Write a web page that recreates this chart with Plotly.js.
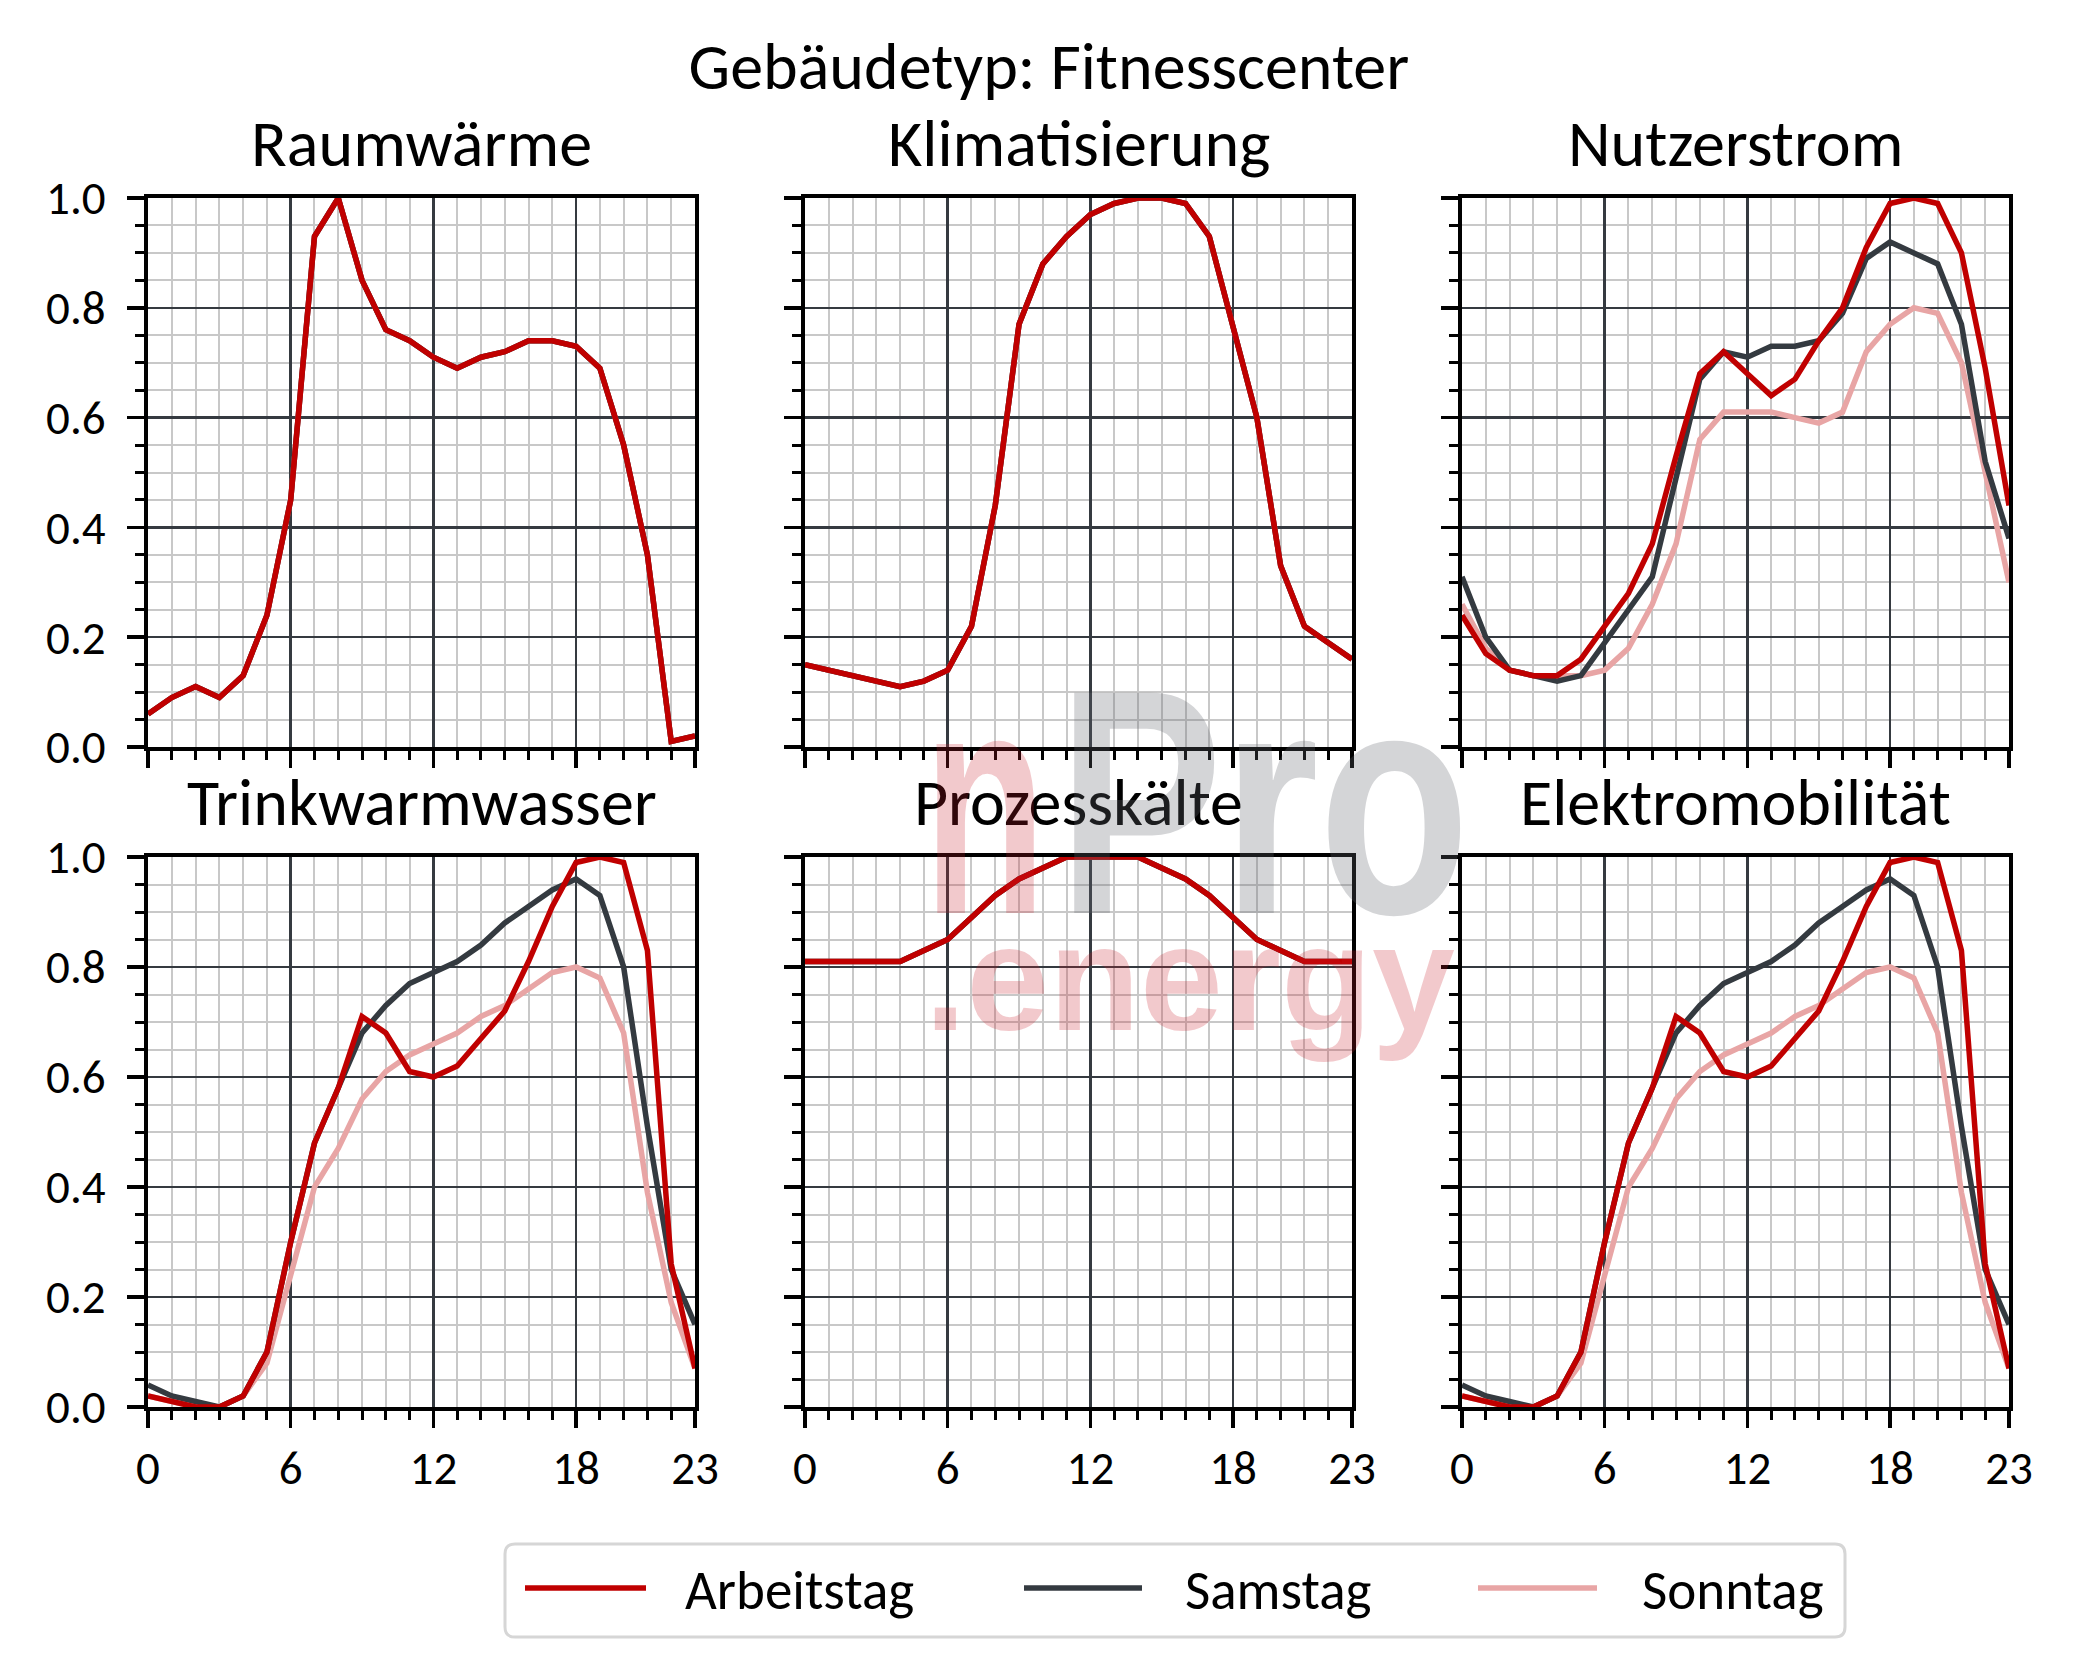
<!DOCTYPE html>
<html><head><meta charset="utf-8">
<script src="https://cdn.plot.ly/plotly-3.0.1.min.js"></script>
<style>html,body{margin:0;padding:0;background:#fff}</style>
</head><body>
<div id="chart" style="width:2077px;height:1678px"></div>
<script>
// ---------- data ----------
const hours = [0,1,2,3,4,5,6,7,8,9,10,11,12,13,14,15,16,17,18,19,20,21,22,23];
const xTickVals = [0,6,12,18,23];
const xTickText = ['0','6','12','18','23'];
const seriesNames = ['Arbeitstag','Samstag','Sonntag'];
const panelTitles = ['Raumwärme','Klimatisierung','Nutzerstrom','Trinkwarmwasser','Prozesskälte','Elektromobilität'];
const mainTitle = 'Gebäudetyp: Fitnesscenter';

const raumwaerme_arbeitstag = [0.06,0.09,0.11,0.09,0.13,0.24,0.45,0.93,1.00,0.85,0.76,0.74,0.71,0.69,0.71,0.72,0.74,0.74,0.73,0.69,0.55,0.35,0.01,0.02];
const raumwaerme_samstag    = [0.06,0.09,0.11,0.09,0.13,0.24,0.45,0.93,1.00,0.85,0.76,0.74,0.71,0.69,0.71,0.72,0.74,0.74,0.73,0.69,0.55,0.35,0.01,0.02];
const raumwaerme_sonntag    = [0.06,0.09,0.11,0.09,0.13,0.24,0.45,0.93,1.00,0.85,0.76,0.74,0.71,0.69,0.71,0.72,0.74,0.74,0.73,0.69,0.55,0.35,0.01,0.02];

const klima_arbeitstag = [0.15,0.14,0.13,0.12,0.11,0.12,0.14,0.22,0.44,0.77,0.88,0.93,0.97,0.99,1.00,1.00,0.99,0.93,0.76,0.60,0.33,0.22,0.19,0.16];
const klima_samstag    = [0.15,0.14,0.13,0.12,0.11,0.12,0.14,0.22,0.44,0.77,0.88,0.93,0.97,0.99,1.00,1.00,0.99,0.93,0.76,0.60,0.33,0.22,0.19,0.16];
const klima_sonntag    = [0.15,0.14,0.13,0.12,0.11,0.12,0.14,0.22,0.44,0.77,0.88,0.93,0.97,0.99,1.00,1.00,0.99,0.93,0.76,0.60,0.33,0.22,0.19,0.16];

const nutzer_arbeitstag = [0.24,0.17,0.14,0.13,0.13,0.16,0.22,0.28,0.37,0.53,0.68,0.72,0.68,0.64,0.67,0.74,0.80,0.91,0.99,1.00,0.99,0.90,0.69,0.44];
const nutzer_samstag    = [0.31,0.20,0.14,0.13,0.12,0.13,0.19,0.25,0.31,0.49,0.67,0.72,0.71,0.73,0.73,0.74,0.79,0.89,0.92,0.90,0.88,0.77,0.52,0.38];
const nutzer_sonntag    = [0.26,0.18,0.14,0.13,0.13,0.13,0.14,0.18,0.26,0.37,0.56,0.61,0.61,0.61,0.60,0.59,0.61,0.72,0.77,0.80,0.79,0.70,0.50,0.30];

const trink_arbeitstag = [0.02,0.01,0.00,0.00,0.02,0.10,0.30,0.48,0.58,0.71,0.68,0.61,0.60,0.62,0.67,0.72,0.81,0.91,0.99,1.00,0.99,0.83,0.26,0.07];
const trink_samstag    = [0.04,0.02,0.01,0.00,0.02,0.10,0.30,0.48,0.58,0.68,0.73,0.77,0.79,0.81,0.84,0.88,0.91,0.94,0.96,0.93,0.80,0.51,0.25,0.15];
const trink_sonntag    = [0.02,0.01,0.00,0.00,0.02,0.08,0.24,0.40,0.47,0.56,0.61,0.64,0.66,0.68,0.71,0.73,0.76,0.79,0.80,0.78,0.68,0.39,0.19,0.07];

const prozess_arbeitstag = [0.81,0.81,0.81,0.81,0.81,0.83,0.85,0.89,0.93,0.96,0.98,1.00,1.00,1.00,1.00,0.98,0.96,0.93,0.89,0.85,0.83,0.81,0.81,0.81];
const prozess_samstag    = [0.81,0.81,0.81,0.81,0.81,0.83,0.85,0.89,0.93,0.96,0.98,1.00,1.00,1.00,1.00,0.98,0.96,0.93,0.89,0.85,0.83,0.81,0.81,0.81];
const prozess_sonntag    = [0.81,0.81,0.81,0.81,0.81,0.83,0.85,0.89,0.93,0.96,0.98,1.00,1.00,1.00,1.00,0.98,0.96,0.93,0.89,0.85,0.83,0.81,0.81,0.81];

const emob_arbeitstag = [0.02,0.01,0.00,0.00,0.02,0.10,0.30,0.48,0.58,0.71,0.68,0.61,0.60,0.62,0.67,0.72,0.81,0.91,0.99,1.00,0.99,0.83,0.26,0.07];
const emob_samstag    = [0.04,0.02,0.01,0.00,0.02,0.10,0.30,0.48,0.58,0.68,0.73,0.77,0.79,0.81,0.84,0.88,0.91,0.94,0.96,0.93,0.80,0.51,0.25,0.15];
const emob_sonntag    = [0.02,0.01,0.00,0.00,0.02,0.08,0.24,0.40,0.47,0.56,0.61,0.64,0.66,0.68,0.71,0.73,0.76,0.79,0.80,0.78,0.68,0.39,0.19,0.07];

const panels = [
  [raumwaerme_arbeitstag, raumwaerme_samstag, raumwaerme_sonntag],
  [klima_arbeitstag, klima_samstag, klima_sonntag],
  [nutzer_arbeitstag, nutzer_samstag, nutzer_sonntag],
  [trink_arbeitstag, trink_samstag, trink_sonntag],
  [prozess_arbeitstag, prozess_samstag, prozess_sonntag],
  [emob_arbeitstag, emob_samstag, emob_sonntag]
];

// ---------- styling ----------
const W = 2077, H = 1678;
const FONT = 'Carlito, Calibri, Lato, sans-serif';
const colors = ['#c00000', '#343a40', '#e8a5a5'];
const LW = 5.5;
const colDom = [[148/W, 695/W], [805/W, 1352/W], [1462/W, 2009/W]];
const rowDom = [[1-747/H, 1-198/H], [1-1407/H, 1-857/H]];

const traces = [];
const layout = {
  width: W, height: H,
  margin: {l:0, r:0, t:0, b:0},
  paper_bgcolor: '#ffffff', plot_bgcolor: '#ffffff',
  showlegend: false,
  font: {family: FONT, color: '#000'},
  title: {text: mainTitle, x: 0.505, xanchor: 'center', y: 1-66/H, yanchor: 'middle',
          font: {family: FONT, size: 66, color: '#000'}},
  annotations: [], shapes: []
};

for (let p = 0; p < 6; p++) {
  const r = Math.floor(p / 3), c = p % 3;
  const ax = p === 0 ? '' : String(p + 1);
  for (const s of [2, 1, 0]) {
    traces.push({
      type: 'scatter', mode: 'lines', x: hours, y: panels[p][s],
      name: seriesNames[s], xaxis: 'x' + ax, yaxis: 'y' + ax,
      line: {color: colors[s], width: LW}, hoverinfo: 'x+y+name'
    });
  }
  layout['xaxis' + ax] = {
    domain: colDom[c], anchor: 'y' + ax, range: [0, 23],
    tickmode: 'array', tickvals: xTickVals, ticktext: xTickText,
    showticklabels: r === 1, ticks: 'outside', ticklen: 17, tickwidth: 3.5, tickcolor: '#000',
    showline: true, linecolor: '#000', linewidth: 4, mirror: true,
    showgrid: true, gridcolor: '#353a40', gridwidth: 2.5, zeroline: false,
    minor: {tickmode: 'linear', tick0: 0, dtick: 1, ticks: 'outside', ticklen: 9, tickwidth: 3,
            tickcolor: '#000', showgrid: true, gridcolor: '#c8c8c8', gridwidth: 2},
    tickfont: {family: FONT, size: 47, color: '#000'}, fixedrange: true
  };
  layout['yaxis' + ax] = {
    domain: rowDom[r], anchor: 'x' + ax, range: [0, 1],
    tickmode: 'linear', tick0: 0, dtick: 0.2, tickformat: '.1f',
    showticklabels: c === 0, ticks: 'outside', ticklen: 17, tickwidth: 3.5, tickcolor: '#000',
    ticklabelstandoff: 12,
    showline: true, linecolor: '#000', linewidth: 4, mirror: true,
    showgrid: true, gridcolor: '#353a40', gridwidth: 2.5, zeroline: false,
    minor: {tickmode: 'linear', tick0: 0, dtick: 0.05, ticks: 'outside', ticklen: 9, tickwidth: 3,
            tickcolor: '#000', showgrid: true, gridcolor: '#c8c8c8', gridwidth: 2},
    tickfont: {family: FONT, size: 47, color: '#000'}, fixedrange: true
  };
  layout.annotations.push({
    text: panelTitles[p], xref: 'paper', yref: 'paper',
    x: (colDom[c][0] + colDom[c][1]) / 2, y: rowDom[r][1], xanchor: 'center', yanchor: 'bottom',
    yshift: 12, showarrow: false, font: {family: FONT, size: 66, color: '#000'}
  });
}

// watermark (logo text), compressed horizontally after drawing
const WM = 'Liberation Sans, Arial, sans-serif';
const wmParts = [
  {text: 'n',       cx: 984,  cy: 802, size: 320, len: 123, color: 'rgba(200,30,40,0.24)'},
  {text: 'Pro',     cx: 1263, cy: 802, size: 320, len: 412, color: 'rgba(100,105,110,0.28)'},
  {text: '.energy', cx: 1190, cy: 978, size: 150, len: 530, color: 'rgba(200,30,40,0.24)'}
];
const wmStart = layout.annotations.length;
for (const w of wmParts) {
  layout.annotations.push({
    text: w.text, xref: 'paper', yref: 'paper', x: w.cx/W, y: 1-w.cy/H, xanchor: 'center', yanchor: 'middle',
    showarrow: false, font: {family: WM, size: w.size, weight: 'bold', color: w.color}
  });
}

// custom legend (rounded frame)
const lx0 = 505/W, lx1 = 1845/W, ly0 = 1-1637/H, ly1 = 1-1544/H, rx = 10/W, ry = 10/H;
layout.shapes.push({type: 'path', xref: 'paper', yref: 'paper',
  path: `M ${lx0+rx},${ly0} L ${lx1-rx},${ly0} Q ${lx1},${ly0} ${lx1},${ly0+ry} L ${lx1},${ly1-ry} Q ${lx1},${ly1} ${lx1-rx},${ly1} L ${lx0+rx},${ly1} Q ${lx0},${ly1} ${lx0},${ly1-ry} L ${lx0},${ly0+ry} Q ${lx0},${ly0} ${lx0+rx},${ly0} Z`,
  line: {color: '#d6d6d6', width: 3}, fillcolor: 'rgba(255,255,255,0.85)', layer: 'above'});
const legLine = [[525, 646], [1024, 1142], [1478, 1597]];
const legText = [683, 1183, 1640];
for (let s = 0; s < 3; s++) {
  layout.shapes.push({type: 'line', xref: 'paper', yref: 'paper', x0: legLine[s][0]/W, x1: legLine[s][1]/W,
    y0: 1-1588/H, y1: 1-1588/H, line: {color: colors[s], width: LW}, layer: 'above'});
  layout.annotations.push({text: seriesNames[s], xref: 'paper', yref: 'paper', x: legText[s]/W, y: 1-1590/H,
    xanchor: 'left', yanchor: 'middle', showarrow: false, font: {family: FONT, size: 55, color: '#000'}});
}

Plotly.newPlot('chart', traces, layout, {staticPlot: true, displayModeBar: false}).then(function (gd) {
  const texts = gd.querySelectorAll('.annotation-text');
  wmParts.forEach(function (w, i) {
    const t = texts[wmStart + i];
    if (t) {
      t.setAttribute('textLength', w.len);
      t.setAttribute('lengthAdjust', 'spacingAndGlyphs');
    }
  });
});
</script>
</body></html>
